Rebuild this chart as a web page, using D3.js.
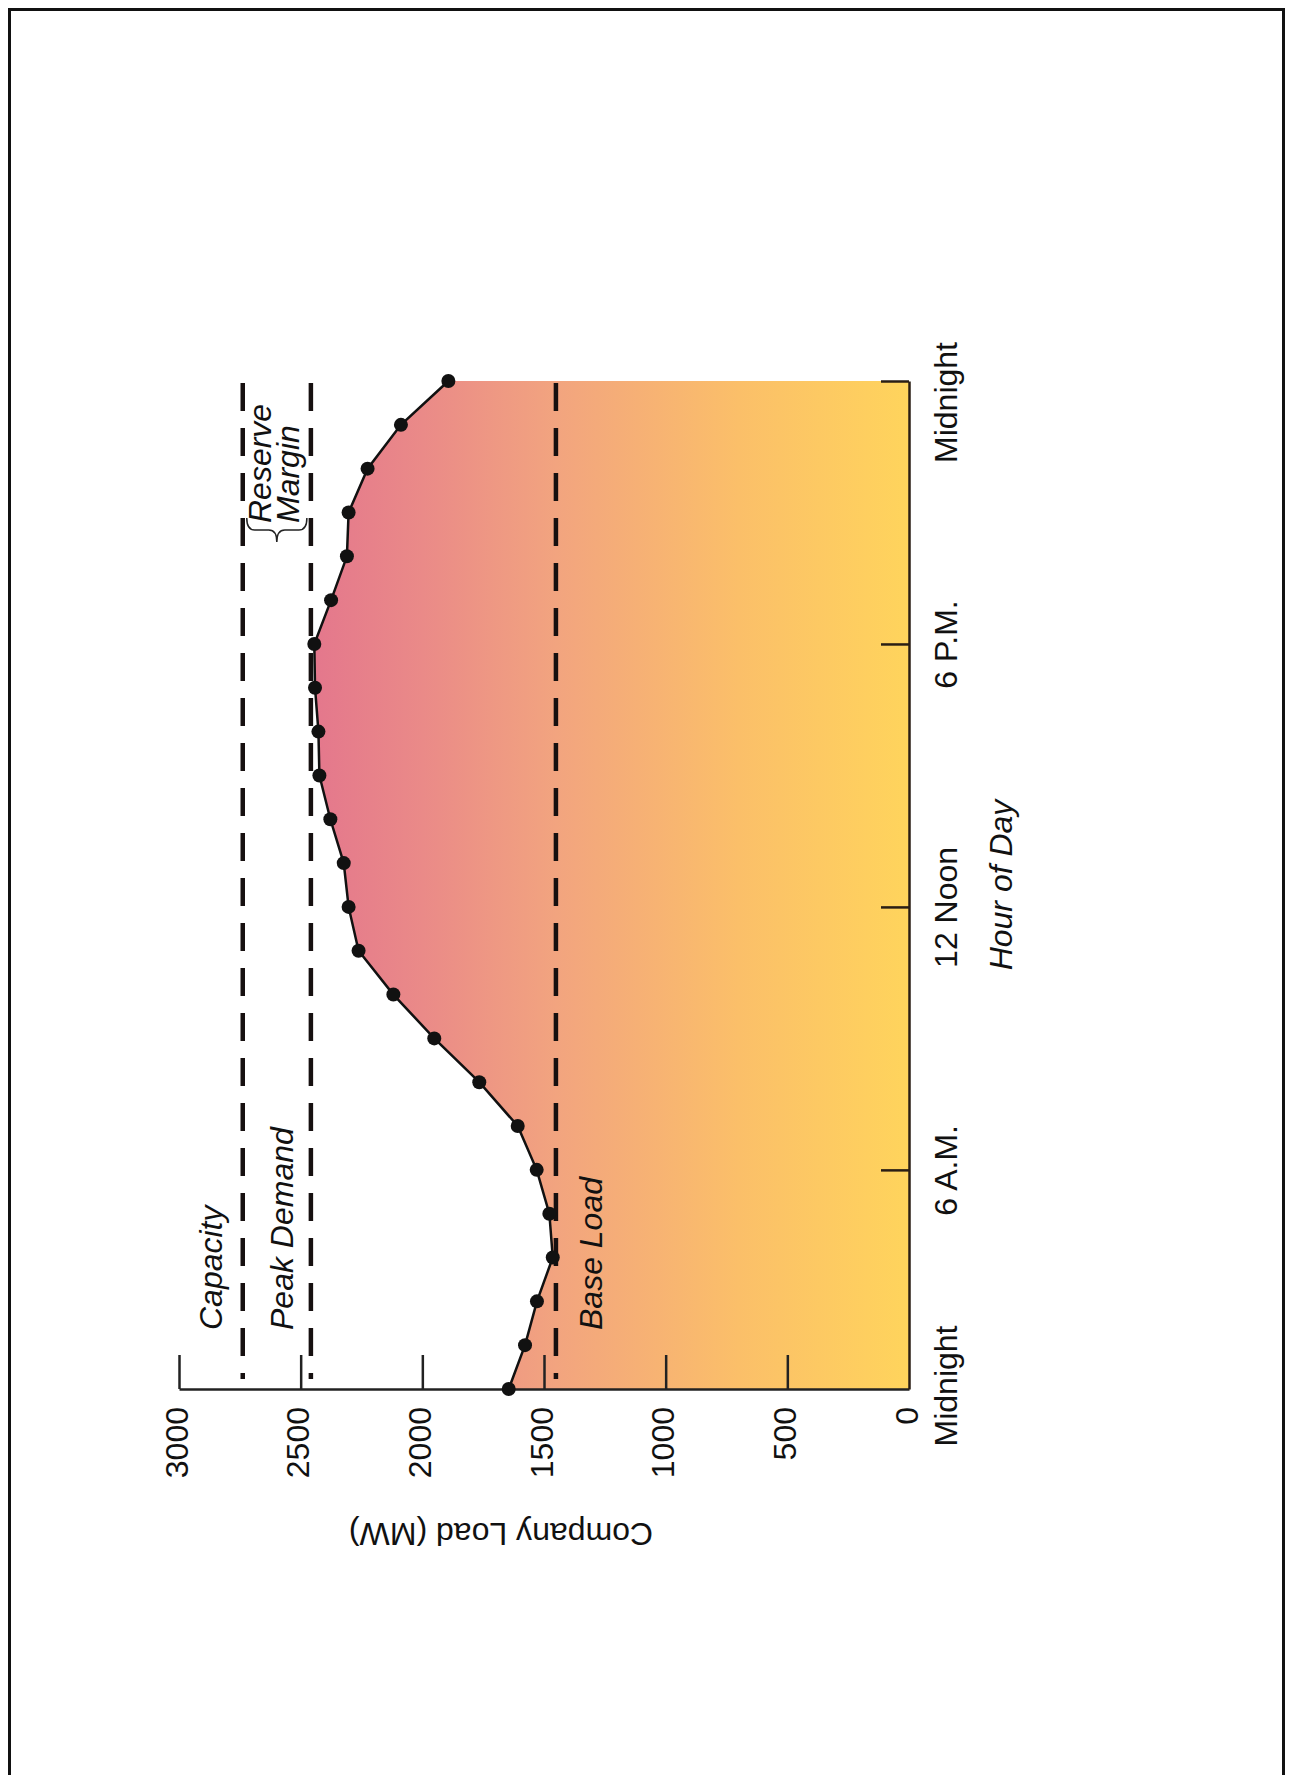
<!DOCTYPE html>
<html>
<head>
<meta charset="utf-8">
<script src="https://cdn.jsdelivr.net/npm/d3@7"></script>
<style>
  body { margin: 0; background: #fff; }
  text { font-family: "Liberation Sans", Arial, sans-serif; fill: #111; }
</style>
</head>
<body>
<div id="chart"></div>
<script>
// hourly company load, 1 A.M. .. midnight
const hours = [1, 2, 3, 4, 5, 6, 7, 8, 9, 10, 11, 12, 13, 14, 15, 16, 17, 18, 19, 20, 21, 22, 23, 24]
const load = [1645, 1578, 1529, 1464, 1478, 1530, 1608, 1766, 1951, 2119, 2262, 2303,
              2323, 2378, 2423, 2427, 2441, 2444, 2375, 2310, 2303, 2225, 2088, 1893]

const loadTicks = [0, 500, 1000, 1500, 2000, 2500, 3000]
const hourTicks = [6, 12, 18, 24]
const hourLabels = ['6 A.M.', '12 Noon', '6 P.M.', 'Midnight']
const startLabel = 'Midnight'

const refNames = ['Capacity', 'Peak Demand', 'Base Load']
const refValues = [2738, 2458, 1451]

const data = hours.map((h, i) => ({ hour: h, load: load[i] }))

const svg = d3.select('#chart').append('svg')
  .attr('width', 1292)
  .attr('height', 1775)
  .style('display', 'block')

// page frame (open at the bottom, cropped)
svg.append('path')
  .attr('d', 'M9.5,1775 V9.5 H1283.5 V1775')
  .attr('fill', 'none')
  .attr('stroke', '#111')
  .attr('stroke-width', 3)

// chart is drawn turned on its side: load runs right->left, hours bottom->top
const x = d3.scaleLinear().domain([0, 3000]).range([909, 179])
const y = d3.scaleLinear().domain([1, 24]).range([1389, 381])

const defs = svg.append('defs')
const grad = defs.append('linearGradient')
  .attr('id', 'fillGrad')
  .attr('gradientUnits', 'userSpaceOnUse')
  .attr('x1', x(2500)).attr('x2', x(0))
  .attr('y1', 0).attr('y2', 0)
grad.selectAll('stop')
  .data([[0, '#e3758d'], [0.2, '#ea8a88'], [0.42, '#f2a47f'], [0.72, '#fbbf69'], [1, '#ffd45c']])
  .enter().append('stop')
  .attr('offset', d => d[0])
  .attr('stop-color', d => d[1])

const area = d3.area()
  .y(d => y(d.hour))
  .x0(x(0))
  .x1(d => x(d.load))

svg.append('path')
  .datum(data)
  .attr('d', area)
  .attr('fill', 'url(#fillGrad)')

// dashed reference lines
svg.selectAll('.ref')
  .data(refValues)
  .enter().append('line')
  .attr('class', 'ref')
  .attr('x1', d => x(d)).attr('x2', d => x(d))
  .attr('y1', y(24) + 2).attr('y2', y(1) - 10)
  .attr('stroke', '#161010')
  .attr('stroke-width', 4.5)
  .attr('stroke-dasharray', '28 17')

// load axis (horizontal, along the bottom)
const loadAxis = svg.append('g')
  .attr('transform', `translate(0,${y(1)})`)
  .call(d3.axisTop(x).tickValues(loadTicks).tickSize(34).tickSizeOuter(0).tickFormat(d => d))
loadAxis.select('.domain').attr('stroke', '#222').attr('stroke-width', 2.5)
loadAxis.selectAll('.tick line').attr('stroke', '#222').attr('stroke-width', 2.5)
  .filter(d => d === 0).remove()
loadAxis.selectAll('.tick text')
  .attr('x', 0).attr('y', 0).attr('dy', 0)
  .attr('text-anchor', 'end')
  .attr('transform', 'translate(8,18) rotate(-90)')
  .style('font-size', '32px')
  .attr('fill', '#111')

// hour axis (vertical, along the right)
const hourAxis = svg.append('g')
  .attr('transform', `translate(${x(0)},0)`)
  .call(d3.axisLeft(y).tickValues(hourTicks).tickSize(28).tickSizeOuter(0)
    .tickFormat((d, i) => hourLabels[i]))
hourAxis.select('.domain').attr('stroke', '#2a1e14').attr('stroke-width', 2.5)
hourAxis.selectAll('.tick line').attr('stroke', '#2a1e14').attr('stroke-width', 2.5)
hourAxis.selectAll('.tick text')
  .attr('x', 0).attr('y', 0).attr('dy', 0)
  .attr('text-anchor', 'middle')
  .attr('transform', d => `translate(48,${d === 24 ? 21 : 0}) rotate(-90)`)
  .style('font-size', '32px')
  .attr('fill', '#111')

svg.append('text')
  .attr('transform', `translate(${x(0) + 48},${y(1) - 3}) rotate(-90)`)
  .attr('text-anchor', 'middle')
  .style('font-size', '32px')
  .text(startLabel)

// load curve and points
const line = d3.line()
  .x(d => x(d.load))
  .y(d => y(d.hour))

svg.append('path')
  .datum(data)
  .attr('d', line)
  .attr('fill', 'none')
  .attr('stroke', '#111')
  .attr('stroke-width', 2.5)

svg.selectAll('.dot')
  .data(data)
  .enter().append('circle')
  .attr('class', 'dot')
  .attr('cx', d => x(d.load))
  .attr('cy', d => y(d.hour))
  .attr('r', 7)
  .attr('fill', '#111')

// reference labels
const labelY = y(1) - 59
svg.append('text')
  .attr('transform', `translate(${x(refValues[0]) - 21},${labelY}) rotate(-90)`)
  .style('font-size', '32px').style('font-style', 'italic')
  .text(refNames[0])
svg.append('text')
  .attr('transform', `translate(${x(refValues[1]) - 18},${labelY}) rotate(-90)`)
  .style('font-size', '32px').style('font-style', 'italic')
  .text(refNames[1])
svg.append('text')
  .attr('transform', `translate(${x(refValues[2]) + 46},${labelY}) rotate(-90)`)
  .style('font-size', '32px').style('font-style', 'italic')
  .text(refNames[2])

// reserve margin: brace between capacity and peak demand
const a = x(refValues[0]) + 4, b = x(refValues[1]) - 4, m = (a + b) / 2
const y0 = 518, y1 = 542, ym = (y0 + y1) / 2, w = 8
svg.append('path')
  .attr('d', `M${a},${y0} Q${a},${ym} ${a + w},${ym} L${m - w},${ym} Q${m},${ym} ${m},${y1} ` +
             `Q${m},${ym} ${m + w},${ym} L${b - w},${ym} Q${b},${ym} ${b},${y0}`)
  .attr('fill', 'none')
  .attr('stroke', '#222')
  .attr('stroke-width', 1.5)

svg.append('text')
  .attr('transform', `translate(${x(refValues[0]) + 28},523) rotate(-90)`)
  .style('font-size', '32px').style('font-style', 'italic')
  .text('Reserve')
svg.append('text')
  .attr('transform', `translate(${x(refValues[0]) + 56},523) rotate(-90)`)
  .style('font-size', '32px').style('font-style', 'italic')
  .text('Margin')

// axis titles
svg.append('text')
  .attr('transform', `translate(${(x(0) + x(3000)) / 2 - 43},1523) rotate(180)`)
  .attr('text-anchor', 'middle')
  .style('font-size', '32px')
  .text('Company Load (MW)')

svg.append('text')
  .attr('transform', `translate(1012,${(y(1) + y(24)) / 2}) rotate(-90)`)
  .attr('text-anchor', 'middle')
  .style('font-size', '32px').style('font-style', 'italic')
  .text('Hour of Day')
</script>
</body>
</html>
